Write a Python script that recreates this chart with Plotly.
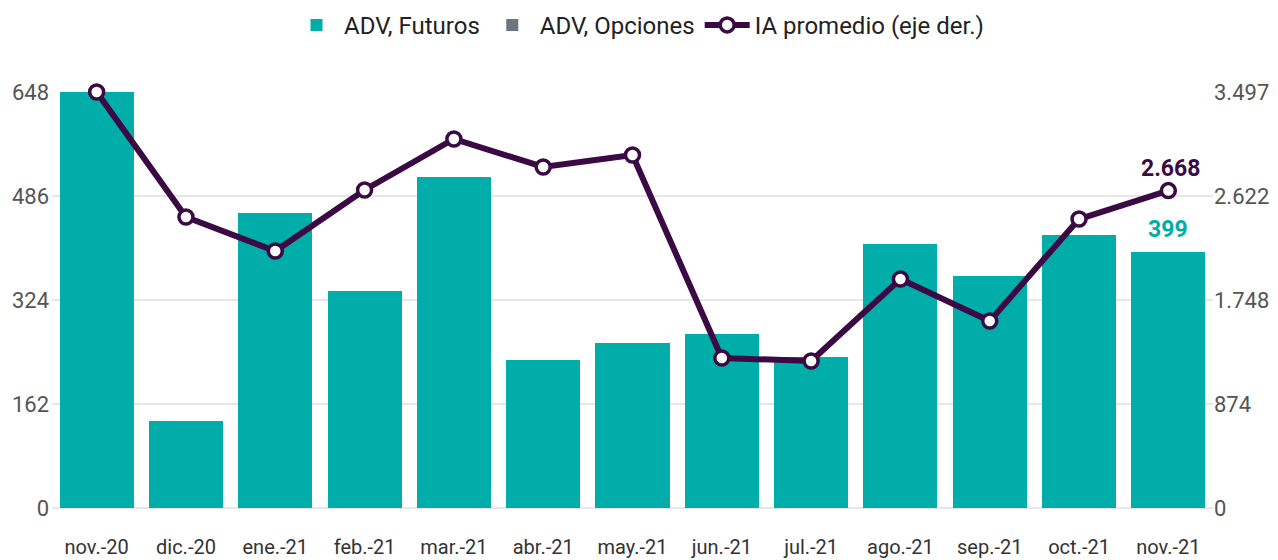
import plotly.graph_objects as go

categories = ["nov.-20", "dic.-20", "ene.-21", "feb.-21", "mar.-21", "abr.-21", "may.-21",
              "jun.-21", "jul.-21", "ago.-21", "sep.-21", "oct.-21", "nov.-21"]
adv_futuros = [648, 136, 460, 338, 516, 231, 257, 271, 235, 411, 361, 425, 399]
adv_opciones = [0, 0, 0, 0, 0, 0, 0, 0, 0, 0, 0, 0, 0]
ia_promedio = [3497, 2446, 2160, 2673, 3102, 2867, 2967, 1261, 1236, 1925, 1572, 2429, 2668]

left_ticks = [0, 162, 324, 486, 648]
right_ticks = [0, 874, 1748, 2622, 3497]

TEAL = "#00ADA8"
GREY = "#6D757D"
PURPLE = "#3B0A45"

fig = go.Figure()
fig.add_trace(go.Bar(x=categories, y=adv_futuros, name="ADV, Futuros",
                     marker=dict(color=TEAL, line=dict(width=0)), yaxis="y"))
fig.add_trace(go.Bar(x=categories, y=adv_opciones, name="ADV, Opciones",
                     marker=dict(color=GREY, line=dict(width=0)), yaxis="y"))
fig.add_trace(go.Scatter(x=categories, y=ia_promedio, name="IA promedio (eje der.)",
                         mode="lines+markers", yaxis="y2", cliponaxis=False,
                         line=dict(color=PURPLE, width=6),
                         marker=dict(size=14, color="white", line=dict(color=PURPLE, width=3.5))))

fig.add_annotation(x=categories[-1], y=ia_promedio[-1], yref="y2", text="<b>2.668</b>",
                   showarrow=False, yshift=22, xshift=2, font=dict(color=PURPLE, size=23))
fig.add_annotation(x=categories[-1], y=adv_futuros[-1], yref="y", text="<b>399</b>",
                   showarrow=False, yshift=22, font=dict(color=TEAL, size=23))

fig.update_layout(
    width=1278, height=560,
    margin=dict(l=52, r=65, t=92, b=52, autoexpand=False),
    paper_bgcolor="white", plot_bgcolor="white",
    font=dict(family="Roboto", size=18, color="#555555"),
    separators=",.",
    barmode="stack", bargap=0.17,
    showlegend=True,
    legend=dict(orientation="h", xref="container", yref="container", x=0.5, y=0.995,
                xanchor="center", yanchor="top", font=dict(size=24, color="#222222"),
                traceorder="normal", itemwidth=45),
    xaxis=dict(type="category", range=[-0.5, len(categories) - 0.5], showgrid=False,
               showline=False, ticks="", automargin=False,
               ticklabelstandoff=25, tickfont=dict(size=20, color="#333333")),
    yaxis=dict(range=[0, 648], tickvals=left_ticks, showgrid=True, gridcolor="#E6E6E6",
               gridwidth=1.5, zeroline=True, zerolinecolor="#E6E6E6", ticks="",
               automargin=False, ticklabelstandoff=2, tickfont=dict(size=22, color="#555555")),
    yaxis2=dict(range=[0, 3497], tickvals=right_ticks, overlaying="y", side="right",
                showgrid=False, zeroline=False, ticks="", tickformat=",d", automargin=False,
                tickfont=dict(size=22, color="#555555")),
)

fig.write_html("out.html")
